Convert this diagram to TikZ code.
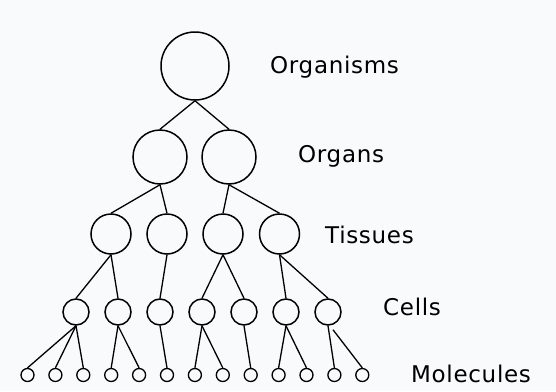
\documentclass[tikz,border=0pt]{standalone}
\usepackage{fontspec}
\setmainfont{DejaVu Sans}
\newfontfamily\labfont[LetterSpace=3]{DejaVu Sans}
\definecolor{bgc}{HTML}{F9FAFC}
\begin{document}
\begin{tikzpicture}[x=1pt,y=-1pt,
  lvl/.style={draw=black,circle,line width=1.5pt,inner sep=0pt},
  org/.style={lvl,minimum size=68pt},
  orgn/.style={lvl,minimum size=54pt},
  tis/.style={lvl,minimum size=40pt},
  cel/.style={lvl,minimum size=26pt},
  mol/.style={lvl,minimum size=13pt,line width=1.3pt},
  lab/.style={anchor=base west,inner sep=0pt,font=\labfont\fontsize{23}{25}\selectfont},
  link/.style={line width=1.3pt}]
\fill[bgc] (0,0) rectangle (556,391);
\useasboundingbox (0,0) rectangle (556,391);
% organism
\node[org] (o) at (195,66) {};
% organs
\node[orgn] (g1) at (160,157) {};
\node[orgn] (g2) at (229,157) {};
% tissues
\node[tis] (t1) at (111,234) {};
\node[tis] (t2) at (167,234) {};
\node[tis] (t3) at (223,234) {};
\node[tis] (t4) at (279.5,234) {};
% cells
\foreach \i/\x in {1/76,2/118,3/160,4/202,5/244,6/286,7/328}
  \node[cel] (c\i) at (\x,312) {};
% molecules
\foreach \i in {1,...,13}
  \node[mol] (m\i) at ({27.5+27.9*(\i-1)},375) {};
% labels
\node[lab] (lo) at (270,73) {Organisms};
\node[lab] (lg) at (298,162) {Organs};
\node[lab] (lt) at (325,243) {Tissues};
\node[lab] (lc) at (383,315) {Cells};
\node[lab] (lm) at (411,382) {Molecules};
% connectors
\foreach \a/\b in {o/g1,o/g2,g1/t1,g1/t2,g2/t3,g2/t4,
  t1/c1,t1/c2,t2/c3,t3/c4,t3/c5,t4/c6,t4/c7,
  c1/m1,c1/m2,c1/m3,c2/m4,c2/m5,c3/m6,c4/m7,c4/m8,c5/m9,c6/m10,c6/m11,c7/m12}
  \draw[link] (\a.south) -- (\b.north);
\coordinate (c7s) at ([shift={(5,4)}]c7.south);
\draw[link] (c7s) -- (m13.north);
\end{tikzpicture}
\end{document}
